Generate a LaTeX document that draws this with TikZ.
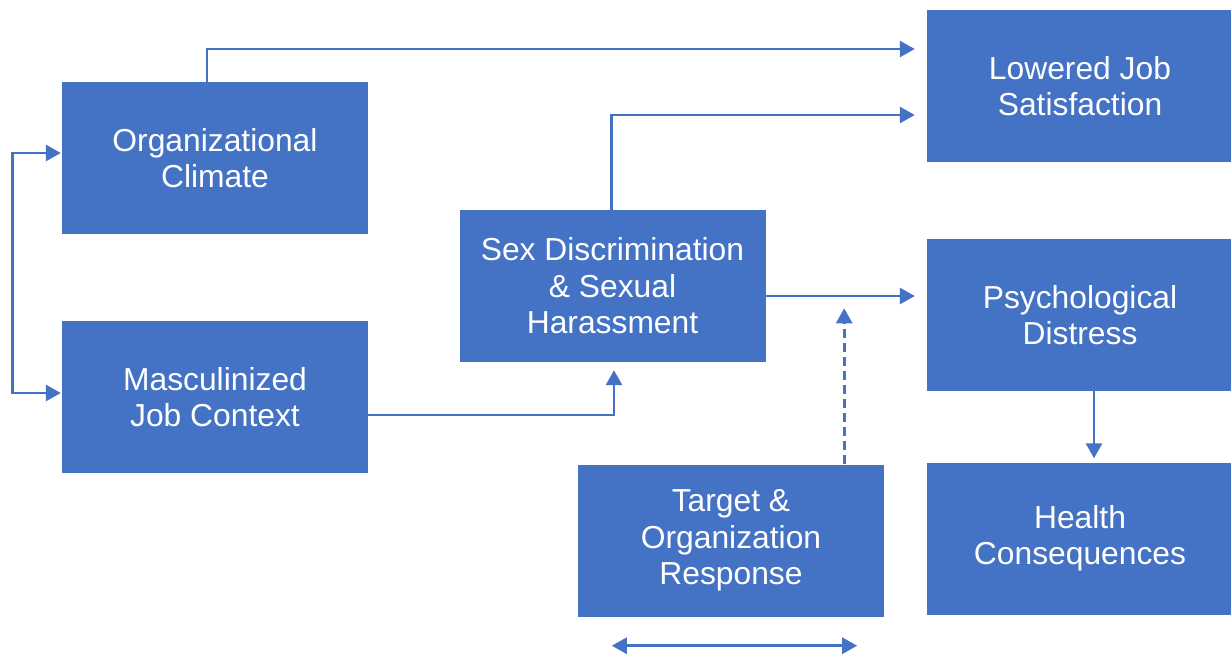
\documentclass[tikz,border=0pt]{standalone}
\usepackage{fontspec}
\setmainfont{Liberation Sans}
\usetikzlibrary{arrows.meta,calc}
\definecolor{boxblue}{HTML}{4472C4}

\begin{document}
\begin{tikzpicture}[
        x=1pt, y=-1pt,
        box/.style={fill=boxblue, text=white, align=center,
            minimum width=306pt, minimum height=152pt, inner sep=0pt,
            font=\fontsize{31.8}{36.5}\selectfont},
        link/.style={draw=boxblue, line width=2.8pt,
            -{Triangle[length=15pt,width=16pt]}},
        both/.style={link, {Triangle[length=15pt,width=16pt]}-{Triangle[length=15pt,width=16pt]}},
        response line/.style={dash pattern=on 9pt off 5pt},
    ]
    \useasboundingbox (0,0) rectangle (1231,656);

    % left column
    \node[box] (climate) at (215,158) {Organizational\\Climate};
    \node[box] (context) at (215,397) {Masculinized\\Job Context};

    % middle
    \node[box] (harass) at (612.5,286) {Sex Discrimination\\\& Sexual\\Harassment};
    \node[box] (response) at (731,540.5) {Target \&\\Organization\\Response};

    % outcomes
    \node[box] (satisfaction) at (1080,86) {Lowered Job\\Satisfaction};
    \node[box] (distress) at (1080,315) {Psychological\\Distress};
    \node[box] (health) at (1080,538.5) {Health\\Consequences};

    % connectors
    \draw[both] ([yshift=5pt,xshift=-1pt]climate.west) -- ++(-48,0)
        |- ([yshift=4pt,xshift=-1pt]context.west);
    \draw[link, shorten >=12pt] ([xshift=-8pt]climate.north)
        |- ([yshift=37pt]satisfaction.west);
    \draw[link, shorten >=12pt] ([xshift=-1pt]harass.north)
        |- ([yshift=-29pt]satisfaction.west);
    \draw[link, shorten >=12pt] ([yshift=-10pt]harass.east)
        -- ([yshift=-10pt]harass.east -| distress.west);
    \draw[link, shorten >=8pt] ([yshift=-18pt]context.east)
        -| ([xshift=1.5pt]harass.south);
    \draw[link, response line] ([xshift=-40pt]response.north east)
        -- ++(0,-156);
    \draw[link, shorten >=4pt] ([xshift=14pt]distress.south)
        -- ([xshift=14pt]health.north);

    \coordinate (range_1) at ([xshift=34pt,yshift=-29pt]response.south west);
    \coordinate (range_2) at ([xshift=-27pt,yshift=-29pt]response.south east);
    \draw[both] (range_1) -- (range_2);
\end{tikzpicture}
\end{document}
